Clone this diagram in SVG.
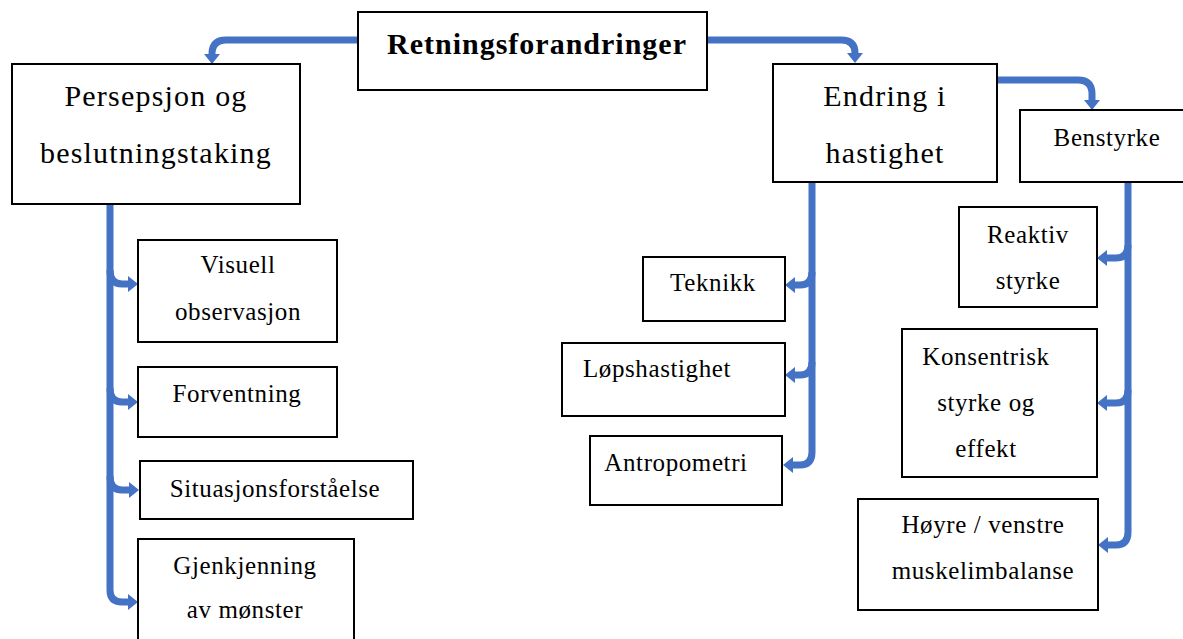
<svg xmlns="http://www.w3.org/2000/svg" width="1183" height="639" viewBox="0 0 1183 639" font-family="'Liberation Serif', 'Times New Roman', 'DejaVu Serif', serif">
<style>
.box{fill:#fff;stroke:#000;stroke-width:2}
text{font-family:'Liberation Serif','Times New Roman','DejaVu Serif',serif;fill:#000;text-anchor:middle}
.big{font-size:30px;letter-spacing:1.2px}
.sm{font-size:25px;letter-spacing:0.6px}
.con{fill:none;stroke:#4472C4;stroke-width:7}
</style>
<defs>
<marker id="ah" markerUnits="userSpaceOnUse" markerWidth="12" markerHeight="18" refX="0" refY="8" orient="auto" overflow="visible">
<path d="M0,0 L10,8 L0,16 z" fill="#4472C4"/>
</marker>
</defs>
<rect width="1183" height="639" fill="#fff"/>
<g id="connectors">
<path class="con" marker-end="url(#ah)" d="M358,40 H226 Q212,40 212,54"/>
<path class="con" marker-end="url(#ah)" d="M707,40 H841 Q855,40 855,53"/>
<path class="con" marker-end="url(#ah)" d="M997,80 H1078 Q1092,80 1092,94 V100"/>
<path class="con" marker-end="url(#ah)" d="M110,204 V590 Q110,602 122,602 H128"/>
<path class="con" marker-end="url(#ah)" d="M110,270 Q110,284 122,284 H128"/>
<path class="con" marker-end="url(#ah)" d="M110,388 Q110,402 122,402 H128"/>
<path class="con" marker-end="url(#ah)" d="M110,476 Q110,490 122,490 H129"/>
<path class="con" marker-end="url(#ah)" d="M812,182 V452 Q812,465 800,465 H793"/>
<path class="con" marker-end="url(#ah)" d="M812,272 Q812,285 800,285 H795"/>
<path class="con" marker-end="url(#ah)" d="M812,362 Q812,375 800,375 H795"/>
<path class="con" marker-end="url(#ah)" d="M1128,182 V532 Q1128,545 1116,545 H1108"/>
<path class="con" marker-end="url(#ah)" d="M1128,245 Q1128,258 1116,258 H1107"/>
<path class="con" marker-end="url(#ah)" d="M1128,390 Q1128,403 1116,403 H1107"/>
</g>
<g id="n-root">
<rect class="box" x="358" y="12" width="349" height="78"/>
<text x="537" y="54" font-size="30" font-weight="bold" letter-spacing="1">Retningsforandringer</text>
</g>
<g id="n-persepsjon">
<rect class="box" x="12" y="64" width="288" height="140"/>
<text class="big" x="156" y="106">Persepsjon og</text>
<text class="big" x="156" y="163">beslutningstaking</text>
</g>
<g id="n-endring">
<rect class="box" x="773" y="64" width="224" height="118"/>
<text class="big" x="885" y="106">Endring i</text>
<text class="big" x="885" y="163">hastighet</text>
</g>
<g id="n-benstyrke">
<rect class="box" x="1020" y="110" width="170" height="72"/>
<text class="sm" x="1107" y="146">Benstyrke</text>
</g>
<g id="n-visuell">
<rect class="box" x="138" y="240" width="199" height="102"/>
<text class="sm" x="238" y="273">Visuell</text>
<text class="sm" x="238" y="320">observasjon</text>
</g>
<g id="n-forventning">
<rect class="box" x="138" y="367" width="199" height="70"/>
<text class="sm" x="237" y="402">Forventning</text>
</g>
<g id="n-situasjon">
<rect class="box" x="140" y="461" width="273" height="58"/>
<text class="sm" x="275" y="497">Situasjonsforståelse</text>
</g>
<g id="n-gjenkjenning">
<rect class="box" x="138" y="539" width="216" height="110"/>
<text class="sm" x="245" y="574">Gjenkjenning</text>
<text class="sm" x="245" y="618">av mønster</text>
</g>
<g id="n-teknikk">
<rect class="box" x="643" y="257" width="142" height="64"/>
<text class="sm" x="713" y="291">Teknikk</text>
</g>
<g id="n-lopshastighet">
<rect class="box" x="562" y="343" width="223" height="73"/>
<text class="sm" x="657" y="377">Løpshastighet</text>
</g>
<g id="n-antropometri">
<rect class="box" x="590" y="436" width="192" height="69"/>
<text class="sm" x="676" y="471">Antropometri</text>
</g>
<g id="n-reaktiv">
<rect class="box" x="959" y="207" width="138" height="100"/>
<text class="sm" x="1028" y="243">Reaktiv</text>
<text class="sm" x="1028" y="289">styrke</text>
</g>
<g id="n-konsentrisk">
<rect class="box" x="902" y="329" width="195" height="148"/>
<text class="sm" x="986" y="365">Konsentrisk</text>
<text class="sm" x="986" y="411">styrke og</text>
<text class="sm" x="986" y="457">effekt</text>
</g>
<g id="n-hoyre">
<rect class="box" x="858" y="499" width="240" height="111"/>
<text class="sm" x="983" y="533">Høyre / venstre</text>
<text class="sm" x="983" y="579">muskelimbalanse</text>
</g>
</svg>
